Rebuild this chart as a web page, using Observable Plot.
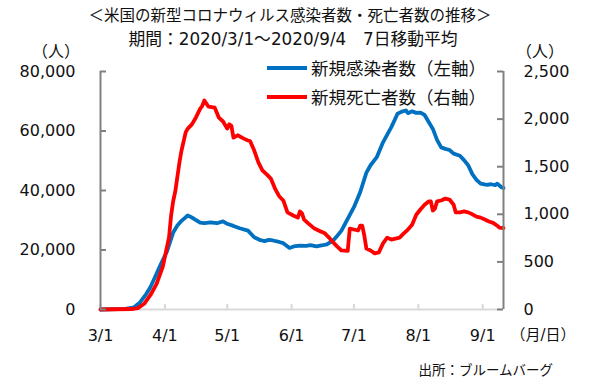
<!DOCTYPE html>
<html><head><meta charset="utf-8">
<script src="https://cdn.jsdelivr.net/npm/d3@7"></script>
<script src="https://cdn.jsdelivr.net/npm/@observablehq/plot@0.6"></script>
<style>
body{margin:0;background:#fff;}
#wrap{position:relative;width:598px;height:389px;font-family:"DejaVu Sans","Noto Sans CJK JP",sans-serif;color:#111;}
.t{position:absolute;white-space:nowrap;line-height:1;}
.jp{font-family:"Noto Sans CJK JP",sans-serif;}
.mix{font-family:"DejaVu Sans","Noto Sans CJK JP",sans-serif;}
#wrap svg{position:absolute;left:0;top:0;}
</style></head><body><div id="wrap"></div>
<script>
// ---- data ----
const caseDates = ["2020-03-01","2020-03-13","2020-03-17","2020-03-20","2020-03-23","2020-03-25","2020-03-27","2020-03-30","2020-04-02","2020-04-05","2020-04-07","2020-04-09","2020-04-12","2020-04-13","2020-04-15","2020-04-18","2020-04-20","2020-04-23","2020-04-26","2020-04-29","2020-05-01","2020-05-04","2020-05-07","2020-05-11","2020-05-14","2020-05-17","2020-05-19","2020-05-21","2020-05-23","2020-05-26","2020-05-28","2020-05-31","2020-06-02","2020-06-05","2020-06-08","2020-06-10","2020-06-13","2020-06-16","2020-06-18","2020-06-21","2020-06-23","2020-06-25","2020-06-28","2020-07-01","2020-07-04","2020-07-07","2020-07-09","2020-07-12","2020-07-15","2020-07-19","2020-07-22","2020-07-24","2020-07-26","2020-07-27","2020-07-29","2020-07-31","2020-08-02","2020-08-04","2020-08-06","2020-08-08","2020-08-10","2020-08-12","2020-08-14","2020-08-16","2020-08-18","2020-08-21","2020-08-23","2020-08-25","2020-08-27","2020-08-29","2020-08-31","2020-09-03","2020-09-05","2020-09-07","2020-09-08","2020-09-10","2020-09-11"];
const caseValues = [0,200,700,2400,5200,7500,10500,15200,19500,25900,28200,29800,31600,31300,30500,29200,29000,29300,29000,29600,28800,28100,27300,26500,24300,23300,23000,23400,23200,22700,22300,20700,21200,21500,21400,21600,21200,21600,21900,23200,24800,26500,30500,34400,39400,46000,48500,51200,56200,61300,65800,66500,66900,66000,66600,66100,66200,65400,63000,60700,57000,54500,54000,53600,52400,51700,50200,48500,45500,43600,42300,41900,42100,41800,42300,41100,40800];
const deathDates = ["2020-03-01","2020-03-16","2020-03-19","2020-03-22","2020-03-25","2020-03-28","2020-03-31","2020-04-03","2020-04-04","2020-04-05","2020-04-06","2020-04-08","2020-04-09","2020-04-11","2020-04-12","2020-04-14","2020-04-16","2020-04-18","2020-04-19","2020-04-20","2020-04-22","2020-04-25","2020-04-27","2020-04-29","2020-05-01","2020-05-02","2020-05-03","2020-05-04","2020-05-06","2020-05-09","2020-05-11","2020-05-12","2020-05-14","2020-05-16","2020-05-18","2020-05-20","2020-05-22","2020-05-24","2020-05-26","2020-05-28","2020-05-30","2020-06-02","2020-06-04","2020-06-05","2020-06-06","2020-06-07","2020-06-09","2020-06-12","2020-06-15","2020-06-17","2020-06-19","2020-06-21","2020-06-23","2020-06-25","2020-06-28","2020-06-29","2020-07-02","2020-07-03","2020-07-04","2020-07-05","2020-07-06","2020-07-07","2020-07-09","2020-07-11","2020-07-13","2020-07-15","2020-07-17","2020-07-19","2020-07-21","2020-07-23","2020-07-25","2020-07-27","2020-07-29","2020-07-31","2020-08-02","2020-08-04","2020-08-06","2020-08-07","2020-08-08","2020-08-09","2020-08-10","2020-08-12","2020-08-14","2020-08-16","2020-08-18","2020-08-19","2020-08-21","2020-08-23","2020-08-25","2020-08-27","2020-08-29","2020-08-31","2020-09-02","2020-09-04","2020-09-06","2020-09-08","2020-09-09","2020-09-11"];
const deathValues = [0,5,15,60,150,270,450,760,990,1140,1240,1545,1670,1860,1900,1945,2020,2110,2140,2195,2130,2120,2015,1975,1900,1945,1930,1805,1830,1795,1775,1770,1670,1545,1460,1420,1375,1270,1190,1145,1020,985,965,1030,1010,945,905,850,820,800,755,705,660,620,615,850,835,830,880,880,775,640,620,590,600,695,755,735,745,755,800,840,890,995,1050,1100,1135,1135,1040,1060,1135,1145,1165,1155,1100,1020,1020,1030,1020,1000,975,965,945,925,910,880,860,855];
const leftTicks = [0,20000,40000,60000,80000];
const rightTicks = [0,500,1000,1500,2000,2500];
const xTickDates = ["2020-03-01","2020-04-01","2020-05-01","2020-06-01","2020-07-01","2020-08-01","2020-09-01"];
const xTickLabels = ["3/1","4/1","5/1","6/1","7/1","8/1","9/1"];
const xDomain = ["2020-03-01","2020-09-11"];
const titleLines = ["＜米国の新型コロナウィルス感染者数・死亡者数の推移＞","期間：2020/3/1～2020/9/4　7日移動平均"];
const seriesNames = ["新規感染者数（左軸）","新規死亡者数（右軸）"];
const seriesColors = ["#0070C0","#FF0000"];
const unitLabel = "（人）";
const xUnitLabel = "（月/日）";
const sourceLabel = "出所：ブルームバーグ";

// ---- build ----
const parse = d3.utcParse("%Y-%m-%d");
const ratio = leftTicks[leftTicks.length-1] / rightTicks[rightTicks.length-1];
const cases = caseDates.map((d,i)=>({date: parse(d), v: caseValues[i]}));
const deaths = deathDates.map((d,i)=>({date: parse(d), v: deathValues[i]}));
const xt = xTickDates.map(parse);
const xd = xDomain.map(parse);
const fmt = d3.format(",");
const font = "'DejaVu Sans','Noto Sans CJK JP',sans-serif";

const chart = Plot.plot({
  width: 598, height: 389,
  marginLeft: 100, marginRight: 95, marginTop: 71, marginBottom: 80,
  style: {fontFamily: font, fontSize: "16px", color: "#111", background: "transparent", overflow: "visible"},
  x: {type: "utc", domain: xd},
  y: {domain: [0, leftTicks[leftTicks.length-1]]},
  marks: [
    Plot.ruleY([0], {stroke: "#d9d9d9", strokeWidth: 2}),
    Plot.ruleX(xt, {x: d=>d, y1: () => 0, insetBottom: 5, stroke: "#d9d9d9", strokeWidth: 2}),
    Plot.line(cases, {x: "date", y: "v", stroke: seriesColors[0], strokeWidth: 3.8, strokeLinejoin: "round", strokeLinecap: "round"}),
    Plot.line(deaths, {x: "date", y: d => d.v * ratio, stroke: seriesColors[1], strokeWidth: 3.8, strokeLinejoin: "round", strokeLinecap: "round"}),
    Plot.ruleX([xd[0]], {stroke: "#808080", strokeWidth: 2}),
    Plot.ruleX([xd[1]], {stroke: "#808080", strokeWidth: 2}),
    Plot.ruleY(leftTicks, {y: d=>d, insetRight: 397, stroke: "#808080", strokeWidth: 2}),
    Plot.ruleY(rightTicks.map(v=>v*ratio), {y: d=>d, insetLeft: 397, stroke: "#808080", strokeWidth: 2}),
    Plot.axisY(leftTicks, {anchor: "left", tickSize: 0, tickPadding: 25, tickFormat: fmt, label: null, fontSize: 16, fill: "#111"}),
    Plot.axisY(rightTicks.map(v=>v*ratio), {anchor: "right", tickSize: 0, tickPadding: 20, tickFormat: d => fmt(Math.round(d/ratio)), label: null, fontSize: 16, fill: "#111"}),
    Plot.axisX(xt, {anchor: "bottom", tickSize: 0, tickPadding: 20, tickFormat: d => xTickLabels[xt.findIndex(t => +t === +d)], label: null, fontSize: 16, fill: "#111"})
  ]
});

const wrap = document.getElementById("wrap");
wrap.appendChild(chart);

function addText(txt, x, cy, fs, align, cls) {
  const el = document.createElement("div");
  el.className = "t " + (cls||"");
  el.textContent = txt;
  el.style.fontSize = fs + "px";
  el.style.top = (cy - fs/2) + "px";
  if (align === "center") { el.style.left = x + "px"; el.style.transform = "translateX(-50%)"; }
  else if (align === "right") { el.style.right = (598 - x) + "px"; }
  else { el.style.left = x + "px"; }
  wrap.appendChild(el);
  return el;
}
addText(titleLines[0], 290, 15, 15.5, "center", "jp");
addText(titleLines[1], 293, 39, 16.8, "center", "mix");
addText(unitLabel, 56, 50, 16, "center", "jp");
addText(unitLabel, 540, 50, 16, "center", "jp");
addText(xUnitLabel, 543, 335, 15, "center", "mix");
addText(sourceLabel, 553, 370, 13.5, "right", "jp");
// legend
seriesNames.forEach((name, i) => {
  const cy = 68 + i * 29;
  const sw = document.createElement("div");
  sw.style.cssText = `position:absolute;left:267px;top:${cy-2}px;width:40px;height:4px;background:${seriesColors[i]};`;
  wrap.appendChild(sw);
  addText(name, 311, cy, 17.5, "left", "jp");
});
</script>
</body></html>
